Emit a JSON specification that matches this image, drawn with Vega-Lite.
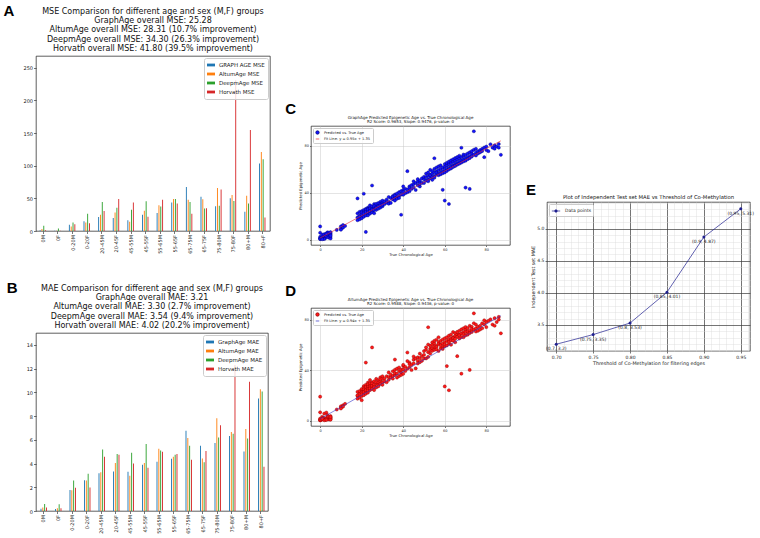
{
"$schema":"https://vega.github.io/schema/vega-lite/v6.json",
"padding":{"left":3,"top":4,"right":6,"bottom":2},
"background":"white",
"spacing":14,
"resolve":{"scale":{"color":"independent","fill":"independent","stroke":"independent","shape":"independent"},"legend":{"color":"independent","fill":"independent","stroke":"independent","shape":"independent"}},
"config":{
 "font":"DejaVu Sans",
 "view":{"stroke":"#1a1a1a","strokeWidth":0.7},
 "axis":{"domain":false,"tickColor":"#1a1a1a","tickWidth":0.6,"tickSize":2.5,"labelColor":"#1a1a1a","labelFontSize":5,"labelPadding":1,"titleColor":"#1a1a1a","titleFontWeight":"normal","titlePadding":2,"grid":false},
 "title":{"color":"#111","fontWeight":"normal","font":"DejaVu Sans"},
 "legend":{"labelFont":"DejaVu Sans"}
},
"datasets":{
 "mse":[
  {"g":"0M","GRAPH AGE MSE":1,"AltumAge MSE":3,"DeepmAge MSE":8,"Horvath MSE":1},
  {"g":"0F","GRAPH AGE MSE":0.3,"AltumAge MSE":0.5,"DeepmAge MSE":4,"Horvath MSE":0.3},
  {"g":"0-20M","GRAPH AGE MSE":9.5,"AltumAge MSE":7,"DeepmAge MSE":13,"Horvath MSE":10.5},
  {"g":"0-20F","GRAPH AGE MSE":15,"AltumAge MSE":13,"DeepmAge MSE":26.5,"Horvath MSE":12},
  {"g":"20-45M","GRAPH AGE MSE":21.5,"AltumAge MSE":25,"DeepmAge MSE":44.5,"Horvath MSE":30.5},
  {"g":"20-45F","GRAPH AGE MSE":20,"AltumAge MSE":28.5,"DeepmAge MSE":35.5,"Horvath MSE":49},
  {"g":"45-55M","GRAPH AGE MSE":16.5,"AltumAge MSE":14,"DeepmAge MSE":32.5,"Horvath MSE":43.5},
  {"g":"45-55F","GRAPH AGE MSE":25,"AltumAge MSE":31,"DeepmAge MSE":45.5,"Horvath MSE":22},
  {"g":"55-65M","GRAPH AGE MSE":27.5,"AltumAge MSE":39.5,"DeepmAge MSE":37.5,"Horvath MSE":48},
  {"g":"55-65F","GRAPH AGE MSE":43.5,"AltumAge MSE":49,"DeepmAge MSE":49,"Horvath MSE":42},
  {"g":"65-75M","GRAPH AGE MSE":67.5,"AltumAge MSE":48,"DeepmAge MSE":44.5,"Horvath MSE":26.5},
  {"g":"65-75F","GRAPH AGE MSE":52.5,"AltumAge MSE":48.5,"DeepmAge MSE":34.5,"Horvath MSE":35},
  {"g":"75-80M","GRAPH AGE MSE":38,"AltumAge MSE":66,"DeepmAge MSE":38.5,"Horvath MSE":63.5},
  {"g":"75-80F","GRAPH AGE MSE":50,"AltumAge MSE":55,"DeepmAge MSE":46,"Horvath MSE":231},
  {"g":"80+M","GRAPH AGE MSE":29.5,"AltumAge MSE":54,"DeepmAge MSE":42,"Horvath MSE":154.5},
  {"g":"80+F","GRAPH AGE MSE":103.5,"AltumAge MSE":121,"DeepmAge MSE":110,"Horvath MSE":20.5}
 ],
 "mae":[
  {"g":"0M","GraphAge MAE":0.2,"AltumAge MAE":0.3,"DeepmAge MAE":0.6,"Horvath MAE":0.3},
  {"g":"0F","GraphAge MAE":0.17,"AltumAge MAE":0.23,"DeepmAge MAE":0.56,"Horvath MAE":0.23},
  {"g":"0-20M","GraphAge MAE":1.78,"AltumAge MAE":1.75,"DeepmAge MAE":2.57,"Horvath MAE":1.95},
  {"g":"0-20F","GraphAge MAE":2.6,"AltumAge MAE":2.57,"DeepmAge MAE":3.13,"Horvath MAE":1.98},
  {"g":"20-45M","GraphAge MAE":3.19,"AltumAge MAE":3.27,"DeepmAge MAE":5.19,"Horvath MAE":4.57},
  {"g":"20-45F","GraphAge MAE":3.33,"AltumAge MAE":4.04,"DeepmAge MAE":4.8,"Horvath MAE":4.74},
  {"g":"45-55M","GraphAge MAE":3.3,"AltumAge MAE":2.96,"DeepmAge MAE":4.91,"Horvath MAE":4.0},
  {"g":"45-55F","GraphAge MAE":3.9,"AltumAge MAE":4.04,"DeepmAge MAE":5.64,"Horvath MAE":3.64},
  {"g":"55-65M","GraphAge MAE":4.15,"AltumAge MAE":5.25,"DeepmAge MAE":5.1,"Horvath MAE":5.0},
  {"g":"55-65F","GraphAge MAE":4.4,"AltumAge MAE":4.57,"DeepmAge MAE":4.74,"Horvath MAE":4.8},
  {"g":"65-75M","GraphAge MAE":6.77,"AltumAge MAE":6.15,"DeepmAge MAE":5.5,"Horvath MAE":4.32},
  {"g":"65-75F","GraphAge MAE":5.5,"AltumAge MAE":4.43,"DeepmAge MAE":4.1,"Horvath MAE":5.05},
  {"g":"75-80M","GraphAge MAE":5.73,"AltumAge MAE":7.82,"DeepmAge MAE":6.2,"Horvath MAE":7.23},
  {"g":"75-80F","GraphAge MAE":6.32,"AltumAge MAE":6.66,"DeepmAge MAE":6.5,"Horvath MAE":12.3},
  {"g":"80+M","GraphAge MAE":5.02,"AltumAge MAE":6.9,"DeepmAge MAE":6.12,"Horvath MAE":10.9},
  {"g":"80+F","GraphAge MAE":9.48,"AltumAge MAE":10.25,"DeepmAge MAE":10.08,"Horvath MAE":3.73}
 ],
 "ages":[
  {"t":0,"g":0.4,"a":0.2},{"t":0,"g":1.2,"a":0.9},{"t":0,"g":2.3,"a":1.6},{"t":0,"g":11.2,"a":19},{"t":0,"g":5.8,"a":6.6},{"t":0,"g":0.8,"a":0.4},
  {"t":0.5,"g":1.6,"a":0.6},{"t":1,"g":2.1,"a":1.2},{"t":1,"g":4.2,"a":3.1},{"t":1.5,"g":0.7,"a":2.2},{"t":2,"g":3.1,"a":1.8},{"t":2,"g":4.6,"a":5.6},
  {"t":2.5,"g":1.3,"a":0.7},{"t":3,"g":5.2,"a":2.1},{"t":3,"g":3.9,"a":6.4},{"t":3,"g":2.6,"a":1.4},{"t":3.5,"g":6.1,"a":4.4},{"t":4,"g":5.9,"a":2.7},
  {"t":4,"g":3.2,"a":1.1},{"t":4,"g":1.7,"a":3.2},{"t":4.5,"g":4.4,"a":0.9},{"t":5,"g":5.1,"a":2.6},{"t":5,"g":2.2,"a":1.2},{"t":5,"g":4.1,"a":3.6},
  {"t":5,"g":6.3,"a":1.7},{"t":5,"g":0.9,"a":0.8},{"t":5,"g":3.3,"a":2.9},{"t":2,"g":0.5,"a":0.3},{"t":1,"g":0.3,"a":1.5},{"t":3,"g":4.8,"a":0.5},
  {"t":8,"g":8.2,"a":8.8},{"t":10,"g":9.1,"a":10.3},{"t":10,"g":11.2,"a":11.4},{"t":11,"g":10.1,"a":12.2},{"t":11,"g":12.4,"a":11.1},{"t":12,"g":11.6,"a":13.3},{"t":10,"g":8.4,"a":9.6},
  {"t":18,"g":18.9,"a":19.6},{"t":18,"g":22.3,"a":20.1},{"t":18,"g":35,"a":22.8},{"t":18,"g":16.5,"a":17.4},{"t":19,"g":20.1,"a":21.7},{"t":19,"g":23.6,"a":18.2},
  {"t":19,"g":17.2,"a":21.1},{"t":19,"g":19.8,"a":23.5},{"t":20,"g":22.4,"a":24.3},{"t":20,"g":19.1,"a":16.2},{"t":20,"g":24.2,"a":25.1},{"t":20,"g":21.3,"a":22.2},
  {"t":20,"g":18.1,"a":19.5},{"t":20,"g":23.1,"a":20.8},{"t":21,"g":25.2,"a":23.4},{"t":21,"g":20.3,"a":27.3},{"t":21,"g":39,"a":26.1},{"t":21,"g":23.1,"a":20.2},
  {"t":21,"g":22.2,"a":24.8},{"t":21,"g":19.4,"a":22.6},{"t":22,"g":6.5,"a":22.4},{"t":22,"g":24.3,"a":46},{"t":22,"g":26.1,"a":25.2},{"t":22,"g":21.2,"a":28.4},
  {"t":22,"g":25.3,"a":24.1},{"t":22,"g":23.4,"a":21.3},{"t":22,"g":20.5,"a":26.7},{"t":23,"g":22.1,"a":26.3},{"t":23,"g":27.2,"a":30.1},{"t":23,"g":24.4,"a":22.2},
  {"t":23,"g":20.6,"a":25.5},{"t":23,"g":26.1,"a":27.4},{"t":23,"g":23.3,"a":23.9},{"t":23,"g":25.7,"a":28.8},{"t":24,"g":25.2,"a":28.3},{"t":24,"g":29.1,"a":24.2},
  {"t":24,"g":23.3,"a":27.1},{"t":24,"g":22.1,"a":32.2},{"t":24,"g":26.5,"a":25.6},{"t":24,"g":24.4,"a":29.7},{"t":25,"g":46,"a":58},{"t":25,"g":26.2,"a":30.3},
  {"t":25,"g":24.1,"a":26.2},{"t":25,"g":28.3,"a":25.1},{"t":25,"g":23.2,"a":29.4},{"t":25,"g":25.6,"a":27.6},{"t":26,"g":27.1,"a":31.2},{"t":26,"g":30.2,"a":27.3},
  {"t":26,"g":25.1,"a":24.2},{"t":26,"g":22.4,"a":28.5},{"t":26,"g":28.5,"a":26.5},{"t":27,"g":28.2,"a":33.1},{"t":27,"g":25.3,"a":29.2},{"t":27,"g":30.4,"a":26.3},
  {"t":27,"g":27.1,"a":30.5},{"t":28,"g":29.2,"a":32.2},{"t":28,"g":26.3,"a":30.1},{"t":28,"g":31.1,"a":28.4},{"t":28,"g":28.4,"a":27.2},{"t":29,"g":27.2,"a":34.3},
  {"t":29,"g":32.1,"a":31.2},{"t":29,"g":30.3,"a":29.1},{"t":29,"g":29.1,"a":32.8},{"t":30,"g":31.2,"a":28.4},{"t":30,"g":28.3,"a":33.3},{"t":30,"g":33.1,"a":35.2},{"t":30,"g":29.6,"a":30.5},
  {"t":31,"g":30.2,"a":33.4},{"t":31,"g":32.5,"a":31.1},{"t":32,"g":34.1,"a":35.2},{"t":32,"g":31.3,"a":30.4},{"t":33,"g":36.2,"a":32.3},{"t":33,"g":32.1,"a":38.2},
  {"t":33,"g":30.5,"a":34.6},{"t":34,"g":35.3,"a":34.1},{"t":34,"g":31.2,"a":36.4},{"t":35,"g":37.1,"a":33.3},{"t":35,"g":34.2,"a":39.1},{"t":35,"g":36.4,"a":35.5},
  {"t":36,"g":38.3,"a":36.2},{"t":36,"g":35.1,"a":48.4},{"t":36,"g":33.2,"a":40.3},{"t":36,"g":37.5,"a":37.7},{"t":37,"g":39.2,"a":34.1},{"t":37,"g":36.1,"a":37.3},
  {"t":37,"g":34.7,"a":41.2},{"t":38,"g":40.3,"a":42.1},{"t":38,"g":37.2,"a":35.3},{"t":38,"g":35.4,"a":39.3},{"t":39,"g":21.1,"a":38.2},{"t":39,"g":41.2,"a":40.4},
  {"t":39,"g":38.3,"a":36.2},{"t":40,"g":38.1,"a":43.3},{"t":40,"g":42.3,"a":37.1},{"t":40,"g":45.2,"a":44.2},{"t":40,"g":40.4,"a":40.6},{"t":41,"g":43.1,"a":39.3},
  {"t":41,"g":39.5,"a":42.6},{"t":42,"g":58.2,"a":41.1},{"t":42,"g":40.3,"a":47.2},{"t":42,"g":42.6,"a":54},{"t":43,"g":45.2,"a":42.3},{"t":43,"g":41.1,"a":46.1},
  {"t":43,"g":43.7,"a":44.8},{"t":44,"g":46.3,"a":44.2},{"t":44,"g":43.1,"a":40.1},{"t":45,"g":47.2,"a":48.3},{"t":45,"g":44.3,"a":45.4},{"t":45,"g":49.6,"a":50.8},
  {"t":46,"g":42.2,"a":49.3},{"t":46,"g":48.1,"a":41.4},{"t":47,"g":49.3,"a":50.2},{"t":47,"g":46.2,"a":47.4},{"t":47,"g":51.4,"a":45.3},{"t":48,"g":50.1,"a":46.3},
  {"t":48,"g":45.2,"a":53.1},{"t":48,"g":47.6,"a":49.5},{"t":49,"g":52.1,"a":51.2},{"t":49,"g":48.2,"a":47.4},{"t":50,"g":51.3,"a":55.1},{"t":50,"g":48.1,"a":52.2},{"t":50,"g":53.4,"a":49.3},
  {"t":51,"g":53.2,"a":49.3},{"t":51,"g":56.1,"a":56.2},{"t":51,"g":50.2,"a":58.1},{"t":52,"g":54.3,"a":74},{"t":52,"g":57.1,"a":54.2},{"t":52,"g":51.2,"a":60.3},
  {"t":52,"g":49.6,"a":50.5},{"t":53,"g":55.2,"a":57.1},{"t":53,"g":59.3,"a":53.2},{"t":53,"g":52.1,"a":59.4},{"t":53,"g":54.7,"a":55.8},{"t":54,"g":56.1,"a":60.2},
  {"t":54,"g":58.2,"a":55.3},{"t":54,"g":53.3,"a":62.1},{"t":54,"g":50.8,"a":57.4},{"t":55,"g":69.2,"a":57.2},{"t":55,"g":57.3,"a":61.2},{"t":55,"g":54.1,"a":63.3},
  {"t":55,"g":60.2,"a":56.1},{"t":55,"g":52.6,"a":58.7},{"t":56,"g":58.1,"a":59.2},{"t":56,"g":55.2,"a":64.1},{"t":56,"g":61.3,"a":58.3},{"t":56,"g":56.9,"a":56.4},
  {"t":57,"g":59.2,"a":62.3},{"t":57,"g":56.1,"a":55.2},{"t":57,"g":62.3,"a":66.1},{"t":57,"g":54.8,"a":60.6},{"t":58,"g":60.1,"a":60.3},{"t":58,"g":57.2,"a":63.2},
  {"t":58,"g":63.1,"a":57.3},{"t":58,"g":55.5,"a":59.7},{"t":59,"g":42.3,"a":58.2},{"t":59,"g":61.2,"a":64.3},{"t":59,"g":58.1,"a":61.1},{"t":59,"g":56.4,"a":56.8},
  {"t":60,"g":33.2,"a":27.1},{"t":60,"g":62.1,"a":62.2},{"t":60,"g":59.3,"a":65.3},{"t":60,"g":64.2,"a":59.1},{"t":60,"g":57.1,"a":60.4},{"t":61,"g":63.1,"a":43.2},
  {"t":61,"g":60.2,"a":63.3},{"t":61,"g":65.3,"a":66.1},{"t":61,"g":58.4,"a":59.6},{"t":62,"g":30.3,"a":24.1},{"t":62,"g":64.2,"a":64.2},{"t":62,"g":61.1,"a":67.3},
  {"t":62,"g":66.3,"a":61.1},{"t":62,"g":59.6,"a":62.5},{"t":63,"g":65.1,"a":65.3},{"t":63,"g":62.2,"a":60.1},{"t":63,"g":67.3,"a":68.2},{"t":63,"g":60.5,"a":63.6},
  {"t":64,"g":66.2,"a":66.1},{"t":64,"g":63.1,"a":70.2},{"t":64,"g":68.3,"a":63.3},{"t":64,"g":61.7,"a":65.5},{"t":65,"g":67.1,"a":67.2},{"t":65,"g":64.2,"a":69.3},
  {"t":65,"g":69.3,"a":62.1},{"t":65,"g":62.6,"a":64.8},{"t":66,"g":68.2,"a":51.1},{"t":66,"g":65.1,"a":68.2},{"t":66,"g":70.2,"a":70.3},{"t":66,"g":63.7,"a":66.4},
  {"t":67,"g":69.1,"a":71.2},{"t":67,"g":66.2,"a":65.1},{"t":67,"g":71.3,"a":68.3},{"t":67,"g":64.6,"a":67.7},{"t":68,"g":78.1,"a":37.2},{"t":68,"g":70.2,"a":69.1},
  {"t":68,"g":67.3,"a":72.3},{"t":68,"g":65.5,"a":66.2},{"t":69,"g":71.1,"a":70.2},{"t":69,"g":68.2,"a":66.1},{"t":69,"g":72.3,"a":73.2},{"t":69,"g":66.4,"a":68.5},
  {"t":70,"g":44.2,"a":72.1},{"t":70,"g":72.1,"a":70.3},{"t":70,"g":69.2,"a":74.2},{"t":70,"g":67.1,"a":67.6},{"t":71,"g":73.2,"a":68.1},{"t":71,"g":70.1,"a":73.3},
  {"t":71,"g":68.4,"a":70.6},{"t":72,"g":43.1,"a":40.2},{"t":72,"g":74.2,"a":71.2},{"t":72,"g":71.1,"a":75.1},{"t":72,"g":69.3,"a":69.4},{"t":73,"g":73.1,"a":70.2},
  {"t":73,"g":75.2,"a":74.3},{"t":73,"g":70.6,"a":72.5},{"t":74,"g":92.1,"a":85},{"t":74,"g":72.2,"a":72.1},{"t":74,"g":76.4,"a":77.2},
  {"t":75,"g":74.1,"a":73.2},{"t":75,"g":77.2,"a":76.1},{"t":75,"g":71.5,"a":70.6},{"t":76,"g":75.1,"a":71.2},{"t":76,"g":73.2,"a":74.3},{"t":77,"g":76.1,"a":75.1},
  {"t":77,"g":74.2,"a":72.2},{"t":78,"g":77.2,"a":77.1},{"t":78,"g":75.3,"a":73.2},{"t":79,"g":70.1,"a":76.3},{"t":79,"g":78.3,"a":79.5},{"t":80,"g":76.2,"a":74.1},
  {"t":80,"g":79.1,"a":78.2},{"t":81,"g":75.2,"a":79.1},{"t":82,"g":81.1,"a":80.2},{"t":83,"g":78.2,"a":76.1},{"t":84,"g":80.1,"a":81.2},{"t":84,"g":77.3,"a":75.2},
  {"t":85,"g":79.2,"a":78.1},{"t":86,"g":81.3,"a":82.2},{"t":86,"g":78.2,"a":80.1},{"t":87,"g":72.1,"a":69.2}
 ],
 "fitC":[{"t":0,"g":1.35},{"t":87,"g":84.0}],
 "fitD":[{"t":0,"a":1.35},{"t":87,"a":83.1}],
 "e":[
  {"x":0.7,"y":3.2,"lbl":"(0.7, 3.2)"},
  {"x":0.75,"y":3.35,"lbl":"(0.75, 3.35)"},
  {"x":0.8,"y":3.53,"lbl":"(0.8, 3.53)"},
  {"x":0.85,"y":4.01,"lbl":"(0.85, 4.01)"},
  {"x":0.9,"y":4.87,"lbl":"(0.9, 4.87)"},
  {"x":0.95,"y":5.31,"lbl":"(0.95, 5.31)"}
 ]
},
"hconcat":[
 {"spacing":27,
  "resolve":{"scale":{"color":"independent"},"legend":{"color":"independent"}},
  "vconcat":[
  {"title":{"text":"A","anchor":"start","frame":"bounds","fontSize":15,"fontWeight":"bold","font":"Liberation Sans","dx":-19,"dy":12,"offset":0,"color":"#000"},
   "resolve":{"scale":{"color":"independent"},"legend":{"color":"independent"}},
   "vconcat":[{
    "width":234,"height":175,
    "data":{"name":"mse"},
    "transform":[{"fold":["GRAPH AGE MSE","AltumAge MSE","DeepmAge MSE","Horvath MSE"],"as":["m","v"]}],
    "title":{"text":["MSE Comparison for different age and sex (M,F) groups","GraphAge overall MSE: 25.28","AltumAge overall MSE: 28.31 (10.7% improvement)","DeepmAge overall MSE: 34.30 (26.3% improvement)","Horvath overall MSE: 41.80 (39.5% improvement)"],"fontSize":8,"lineHeight":9.3,"offset":3,"anchor":"middle"},
    "mark":{"type":"bar"},
    "encoding":{
     "x":{"field":"g","type":"nominal","sort":["0M","0F","0-20M","0-20F","20-45M","20-45F","45-55M","45-55F","55-65M","55-65F","65-75M","65-75F","75-80M","75-80F","80+M","80+F"],"scale":{"paddingInner":0.5,"paddingOuter":0.25},"axis":{"title":null,"labelAngle":-90,"labelFontSize":5}},
     "xOffset":{"field":"m","type":"nominal","sort":["GRAPH AGE MSE","AltumAge MSE","DeepmAge MSE","Horvath MSE"]},
     "y":{"field":"v","type":"quantitative","scale":{"domain":[0,268],"nice":false},"axis":{"title":null,"values":[0,50,100,150,200,250]}},
     "color":{"field":"m","type":"nominal","scale":{"domain":["GRAPH AGE MSE","AltumAge MSE","DeepmAge MSE","Horvath MSE"],"range":["#1f77b4","#ff7f0e","#2ca02c","#d62728"]},
      "legend":{"title":null,"orient":"top-right","offset":2,"labelFontSize":5.5,"labelColor":"#222","symbolType":"M-1,-0.35L1,-0.35L1,0.35L-1,0.35Z","symbolSize":64,"symbolStrokeWidth":0,"rowPadding":1,"padding":3,"fillColor":"rgba(255,255,255,0.8)","strokeColor":"#ccc","cornerRadius":2}}
    }
   }]
  },
  {"title":{"text":"B","anchor":"start","frame":"bounds","fontSize":15,"fontWeight":"bold","font":"Liberation Sans","dx":-19,"dy":12,"offset":0,"color":"#000"},
   "resolve":{"scale":{"color":"independent"},"legend":{"color":"independent"}},
   "vconcat":[{
    "width":232,"height":178,
    "data":{"name":"mae"},
    "transform":[{"fold":["GraphAge MAE","AltumAge MAE","DeepmAge MAE","Horvath MAE"],"as":["m","v"]}],
    "title":{"text":["MAE Comparison for different age and sex (M,F) groups","GraphAge overall MAE: 3.21","AltumAge overall MAE: 3.30 (2.7% improvement)","DeepmAge overall MAE: 3.54 (9.4% improvement)","Horvath overall MAE: 4.02 (20.2% improvement)"],"fontSize":8,"lineHeight":9.3,"offset":3,"anchor":"middle"},
    "mark":{"type":"bar"},
    "encoding":{
     "x":{"field":"g","type":"nominal","sort":["0M","0F","0-20M","0-20F","20-45M","20-45F","45-55M","45-55F","55-65M","55-65F","65-75M","65-75F","75-80M","75-80F","80+M","80+F"],"scale":{"paddingInner":0.5,"paddingOuter":0.25},"axis":{"title":null,"labelAngle":-90,"labelFontSize":5}},
     "xOffset":{"field":"m","type":"nominal","sort":["GraphAge MAE","AltumAge MAE","DeepmAge MAE","Horvath MAE"]},
     "y":{"field":"v","type":"quantitative","scale":{"domain":[0,15],"nice":false},"axis":{"title":null,"values":[0,2,4,6,8,10,12,14]}},
     "color":{"field":"m","type":"nominal","scale":{"domain":["GraphAge MAE","AltumAge MAE","DeepmAge MAE","Horvath MAE"],"range":["#1f77b4","#ff7f0e","#2ca02c","#d62728"]},
      "legend":{"title":null,"orient":"top-right","offset":2,"labelFontSize":5.5,"labelColor":"#222","symbolType":"M-1,-0.35L1,-0.35L1,0.35L-1,0.35Z","symbolSize":64,"symbolStrokeWidth":0,"rowPadding":1,"padding":3,"fillColor":"rgba(255,255,255,0.8)","strokeColor":"#ccc","cornerRadius":2}}
    }
   }]
  }
 ]},
 {"spacing":0,
  "resolve":{"scale":{"fill":"independent","stroke":"independent","shape":"independent"},"legend":{"fill":"independent","stroke":"independent","shape":"independent"}},
  "vconcat":[
  {"width":1,"height":45,"data":{"values":[]},"mark":"point","view":{"stroke":null}},
  {"spacing":26,
   "resolve":{"scale":{"fill":"independent","stroke":"independent","shape":"independent"},"legend":{"fill":"independent","stroke":"independent","shape":"independent"}},
   "vconcat":[
  {"title":{"text":"C","anchor":"start","frame":"bounds","fontSize":15,"fontWeight":"bold","font":"Liberation Sans","dx":-13,"dy":1,"offset":0,"color":"#000"},
   "resolve":{"scale":{"fill":"independent","stroke":"independent","shape":"independent"},"legend":{"fill":"independent","stroke":"independent","shape":"independent"}},
   "vconcat":[{
    "width":199,"height":119,
    "title":{"text":["GraphAge Predicted Epigenetic Age vs. True Chronological Age","R2 Score: 0.9653, Slope: 0.9476, p-value: 0"],"fontSize":4,"lineHeight":4.6,"offset":1.5},
    "layer":[
     {"data":{"name":"ages"},
      "mark":{"type":"point","filled":true,"size":10,"strokeWidth":0.4,"opacity":1},
      "encoding":{
       "x":{"field":"t","type":"quantitative","scale":{"domain":[-4.4,91.4],"nice":false,"zero":false},"axis":{"values":[0,20,40,60,80],"title":"True Chronological Age","grid":true,"gridColor":"#c8c8c8","gridWidth":0.5,"labelFontSize":3.5,"titleFontSize":3.8,"tickSize":1.5,"titlePadding":1.5}},
       "y":{"field":"g","type":"quantitative","scale":{"domain":[-4.6,96.6],"nice":false,"zero":false},"axis":{"values":[0,20,40,60,80],"title":"Predicted Epigenetic Age","grid":true,"gridColor":"#c8c8c8","gridWidth":0.5,"labelFontSize":3.5,"titleFontSize":3.8,"tickSize":1.5,"titlePadding":1.5}},
       "fill":{"datum":"Predicted vs. True Age","scale":{"domain":["Predicted vs. True Age","Fit Line: y = 0.95x + 1.35"],"range":["#1414ff","#e8262a"]},"legend":{"title":null,"orient":"top-left","offset":2,"labelFontSize":3.6,"labelColor":"#222","symbolSize":12,"symbolStrokeWidth":0.7,"padding":2,"rowPadding":0.5,"fillColor":"rgba(255,255,255,0.8)","strokeColor":"#ccc","cornerRadius":1}},
       "stroke":{"datum":"Predicted vs. True Age","scale":{"domain":["Predicted vs. True Age","Fit Line: y = 0.95x + 1.35"],"range":["#00006e","#e8262a"]}},
       "shape":{"datum":"Predicted vs. True Age","scale":{"domain":["Predicted vs. True Age","Fit Line: y = 0.95x + 1.35"],"range":["circle","stroke"]}}
      }},
     {"data":{"name":"fitC"},
      "mark":{"type":"line","strokeWidth":0.6},
      "encoding":{
       "x":{"field":"t","type":"quantitative"},
       "y":{"field":"g","type":"quantitative"},
       "stroke":{"datum":"Fit Line: y = 0.95x + 1.35"}
      }}
    ]
   }]
  },
  {"title":{"text":"D","anchor":"start","frame":"bounds","fontSize":15,"fontWeight":"bold","font":"Liberation Sans","dx":-13,"dy":1,"offset":0,"color":"#000"},
   "resolve":{"scale":{"fill":"independent","stroke":"independent","shape":"independent"},"legend":{"fill":"independent","stroke":"independent","shape":"independent"}},
   "vconcat":[{
    "width":199,"height":118,
    "title":{"text":["AltumAge Predicted Epigenetic Age vs. True Chronological Age","R2 Score: 0.9588, Slope: 0.9436, p-value: 0"],"fontSize":4,"lineHeight":4.6,"offset":1.5},
    "layer":[
     {"data":{"name":"ages"},
      "mark":{"type":"point","filled":true,"size":10,"strokeWidth":0.4,"opacity":1},
      "encoding":{
       "x":{"field":"t","type":"quantitative","scale":{"domain":[-4.4,91.4],"nice":false,"zero":false},"axis":{"values":[0,20,40,60,80],"title":"True Chronological Age","grid":true,"gridColor":"#c8c8c8","gridWidth":0.5,"labelFontSize":3.5,"titleFontSize":3.8,"tickSize":1.5,"titlePadding":1.5}},
       "y":{"field":"a","type":"quantitative","scale":{"domain":[-4.25,89.25],"nice":false,"zero":false},"axis":{"values":[0,20,40,60,80],"title":"Predicted Epigenetic Age","grid":true,"gridColor":"#c8c8c8","gridWidth":0.5,"labelFontSize":3.5,"titleFontSize":3.8,"tickSize":1.5,"titlePadding":1.5}},
       "fill":{"datum":"Predicted vs. True Age","scale":{"domain":["Predicted vs. True Age","Fit Line: y = 0.94x + 1.35"],"range":["#ff1a1a","#3434c8"]},"legend":{"title":null,"orient":"top-left","offset":2,"labelFontSize":3.6,"labelColor":"#222","symbolSize":12,"symbolStrokeWidth":0.7,"padding":2,"rowPadding":0.5,"fillColor":"rgba(255,255,255,0.8)","strokeColor":"#ccc","cornerRadius":1}},
       "stroke":{"datum":"Predicted vs. True Age","scale":{"domain":["Predicted vs. True Age","Fit Line: y = 0.94x + 1.35"],"range":["#8a0000","#3434c8"]}},
       "shape":{"datum":"Predicted vs. True Age","scale":{"domain":["Predicted vs. True Age","Fit Line: y = 0.94x + 1.35"],"range":["circle","stroke"]}}
      }},
     {"data":{"name":"fitD"},
      "mark":{"type":"line","strokeWidth":0.6},
      "encoding":{
       "x":{"field":"t","type":"quantitative"},
       "y":{"field":"a","type":"quantitative"},
       "stroke":{"datum":"Fit Line: y = 0.94x + 1.35"}
      }}
    ]
   }]
  }
  ]}
 ]},
 {"spacing":0,
  "resolve":{"scale":{"color":"independent"},"legend":{"color":"independent"}},
  "vconcat":[
  {"width":1,"height":127,"data":{"values":[]},"mark":"point","view":{"stroke":null}},
  {"title":{"text":"E","anchor":"start","frame":"bounds","fontSize":15,"fontWeight":"bold","font":"Liberation Sans","dx":-4,"dy":4,"offset":0,"color":"#000"},
  "resolve":{"scale":{"color":"independent"},"legend":{"color":"independent"}},
  "vconcat":[{
   "width":203,"height":149,
   "data":{"name":"e"},
   "title":{"text":"Plot of Independent Test set MAE vs Threshold of Co-Methylation","fontSize":5.3,"offset":2},
   "resolve":{"axis":{"x":"independent","y":"independent"}},
   "layer":[
    {"mark":{"type":"line","strokeWidth":0.7,"color":"#20208f"},
     "encoding":{
      "x":{"field":"x","type":"quantitative","scale":{"domain":[0.6875,0.9625],"nice":false,"zero":false},"axis":{"orient":"bottom","values":[0.69,0.71,0.72,0.73,0.74,0.76,0.77,0.78,0.79,0.81,0.82,0.83,0.84,0.86,0.87,0.88,0.89,0.91,0.92,0.93,0.94,0.96],"grid":true,"gridColor":"#d8d8d8","gridWidth":0.4,"labels":false,"ticks":false,"title":null}},
      "y":{"field":"y","type":"quantitative","scale":{"domain":[3.0945,5.4155],"nice":false,"zero":false},"axis":{"orient":"left","values":[3.1,3.2,3.3,3.4,3.6,3.7,3.8,3.9,4.1,4.2,4.3,4.4,4.6,4.7,4.8,4.9,5.1,5.2,5.3,5.4],"grid":true,"gridColor":"#d8d8d8","gridWidth":0.4,"labels":false,"ticks":false,"title":null}},
      "color":{"datum":"Data points","scale":{"range":["#20208f"]},"legend":{"title":null,"orient":"top-left","offset":2,"labelFontSize":4.5,"labelColor":"#222","symbolType":"M-1,0L1,0M-0.3,0a0.3,0.3 0 1,0 0.6,0a0.3,0.3 0 1,0 -0.6,0","symbolSize":70,"symbolFillColor":"#20208f","symbolStrokeColor":"#20208f","symbolStrokeWidth":0.7,"padding":2,"fillColor":"rgba(255,255,255,0.8)","strokeColor":"#ccc","cornerRadius":1}}
     }},
    {"mark":{"type":"point","filled":true,"size":9,"color":"#20208f","opacity":1},
     "encoding":{
      "x":{"field":"x","type":"quantitative","axis":{"orient":"bottom","values":[0.7,0.75,0.8,0.85,0.9,0.95],"format":".2f","grid":true,"gridColor":"#3a3a3a","gridWidth":0.7,"title":"Threshold of Co-Methylation for filtering edges","labelFontSize":4.5,"titleFontSize":4.8,"tickSize":2,"titlePadding":1.5}},
      "y":{"field":"y","type":"quantitative","axis":{"orient":"left","values":[3.5,4.0,4.5,5.0],"format":".1f","grid":true,"gridColor":"#3a3a3a","gridWidth":0.7,"title":"Independent Test set MAE","labelFontSize":4.5,"titleFontSize":4.8,"tickSize":2,"titlePadding":1.5}}
     }},
    {"mark":{"type":"text","fontSize":4.5,"align":"center","baseline":"top","dy":2,"color":"#222"},
     "encoding":{
      "x":{"field":"x","type":"quantitative","axis":null},
      "y":{"field":"y","type":"quantitative","axis":null},
      "text":{"field":"lbl"}
     }}
   ]
  }]
 }
 ]}
]
}
